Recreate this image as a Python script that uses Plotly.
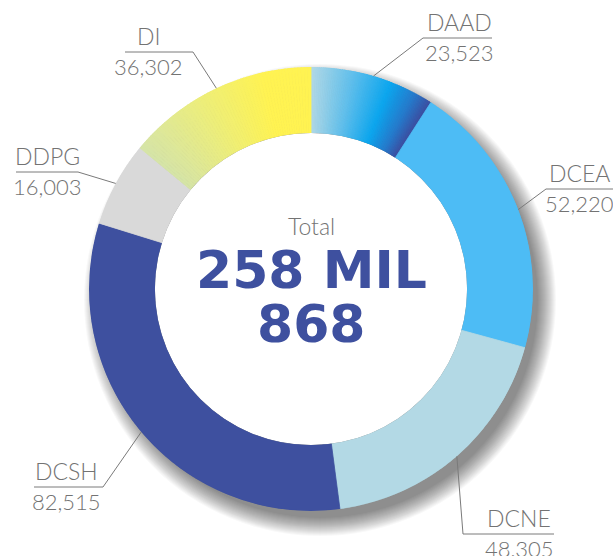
import numpy as np
import plotly.graph_objects as go

# ---------------- data ----------------
categories = ["DAAD", "DCEA", "DCNE", "DCSH", "DDPG", "DI"]
values = [23523, 52220, 48305, 82515, 16003, 36302]
value_labels = ["23,523", "52,220", "48,305", "82,515", "16,003", "36,302"]
total_label_top = "258 MIL"
total_label_bottom = "868"
total_caption = "Total"

# ---------------- styles ----------------
solid_colors = {"DCEA": "#4DBCF5", "DCNE": "#B3D9E5", "DCSH": "#3E509F", "DDPG": "#D9D9D9"}
gradient_stops = {
    "DAAD": [(0.0, "#B2D9E6"), (0.35, "#5DBEEC"), (0.65, "#0BA6EF"), (0.86, "#2579CB"), (1.0, "#3B4DA0")],
    "DI": [(0.0, "#D5E4A8"), (0.4, "#EDEE7A"), (0.75, "#FFF352"), (1.0, "#FFF352")],
}

W, H = 613, 556
CX, CY, R = 311, 289, 222       # donut centre / outer radius in pixels
HOLE = 0.703
TEXT_GREY = "#737373"
LINE_GREY = "#7a7a7a"
BLUE = "#3E509F"

label_layout = {
    "DAAD": dict(elbow=(423, 38), end=(492, 38), tx=459),
    "DCEA": dict(elbow=(546, 189), end=(613, 189), tx=579),
    "DCNE": dict(elbow=(463, 534), end=(554, 534), tx=519),
    "DCSH": dict(elbow=(103, 487), end=(34, 487), tx=66),
    "DDPG": dict(elbow=(78, 172), end=(16, 172), tx=47),
    "DI": dict(elbow=(193, 52), end=(125, 52), tx=148),
}


def px(x):
    return x / W


def py(y):
    return 1 - y / H


def hex2rgb(h):
    h = h.lstrip("#")
    return np.array([int(h[i:i + 2], 16) for i in (0, 2, 4)], dtype=float)


def interp(stops, t):
    for (t0, c0), (t1, c1) in zip(stops[:-1], stops[1:]):
        if t0 <= t <= t1:
            f = 0 if t1 == t0 else (t - t0) / (t1 - t0)
            c = hex2rgb(c0) * (1 - f) + hex2rgb(c1) * f
            return "rgb(%d,%d,%d)" % tuple(np.round(c))
    return stops[-1][1]


total = sum(values)
spans = [v / total * 360 for v in values]
starts = np.concatenate([[0], np.cumsum(spans)[:-1]])

thetas, widths, colors = [], [], []
for name, st, sp in zip(categories, starts, spans):
    if name in gradient_stops:
        n = 60
        for k in range(n):
            t = (k + 0.5) / n
            thetas.append(st + sp * t)
            widths.append(sp / n)
            colors.append(interp(gradient_stops[name], t))
    else:
        thetas.append(st + sp / 2)
        widths.append(sp)
        colors.append(solid_colors[name])

fig = go.Figure()
fig.add_trace(go.Barpolar(
    r=[1] * len(thetas), theta=thetas, width=widths,
    marker=dict(color=colors, line=dict(color=colors, width=0.8)),
    hoverinfo="skip", showlegend=False,
))

dom_x = [px(CX - R), px(CX + R)]
dom_y = [py(CY + R), py(CY - R)]

shapes = []
# soft drop shadow
for k, rr in enumerate(range(R - 4, R + 15)):
    sx, sy = CX + 9, CY + 11
    shapes.append(dict(type="circle", xref="paper", yref="paper", layer="below",
                       x0=px(sx - rr), x1=px(sx + rr), y0=py(sy + rr), y1=py(sy - rr),
                       fillcolor="rgba(0,0,0,0.028)", line=dict(width=0)))
# white hole
rh = R * HOLE
shapes.append(dict(type="circle", xref="paper", yref="paper", layer="below",
                   x0=px(CX - rh), x1=px(CX + rh), y0=py(CY + rh), y1=py(CY - rh),
                   fillcolor="white", line=dict(width=0)))

annotations = []
label_font = dict(family="Lato, 'Open Sans', sans-serif", color=TEXT_GREY, weight=300)
for name, vlab, st, sp in zip(categories, value_labels, starts, spans):
    mid = np.deg2rad(st + sp / 2)
    ax, ay = CX + R * np.sin(mid), CY - R * np.cos(mid)
    lay = label_layout[name]
    (ex, ey), (fx, fy) = lay["elbow"], lay["end"]
    shapes.append(dict(type="path", xref="paper", yref="paper", layer="above",
                       path=f"M {px(ax)},{py(ay)} L {px(ex)},{py(ey)} L {px(fx)},{py(fy)}",
                       line=dict(color=LINE_GREY, width=1)))
    annotations.append(dict(x=px(lay["tx"]), y=py(ey), xref="paper", yref="paper",
                            text=name, showarrow=False, xanchor="center", yanchor="bottom",
                            font=dict(size=23, **label_font)))
    annotations.append(dict(x=px(lay["tx"]), y=py(ey - 1), xref="paper", yref="paper",
                            text=vlab, showarrow=False, xanchor="center", yanchor="top",
                            font=dict(size=22, **label_font)))

annotations.append(dict(x=px(CX), y=py(242), xref="paper", yref="paper", text=total_caption,
                        showarrow=False, xanchor="center", yanchor="bottom",
                        font=dict(size=23, family="Lato, sans-serif", color=TEXT_GREY, weight=300)))
annotations.append(dict(x=px(CX), y=py(302), xref="paper", yref="paper", text=total_label_top,
                        showarrow=False, xanchor="center", yanchor="bottom",
                        font=dict(size=52, family="DejaVu Sans", color=BLUE, weight="bold")))
annotations.append(dict(x=px(CX), y=py(356), xref="paper", yref="paper", text=total_label_bottom,
                        showarrow=False, xanchor="center", yanchor="bottom",
                        font=dict(size=52, family="DejaVu Sans", color=BLUE, weight="bold")))

fig.update_layout(
    width=W, height=H,
    margin=dict(l=0, r=0, t=0, b=0),
    paper_bgcolor="white",
    showlegend=False,
    polar=dict(
        domain=dict(x=dom_x, y=dom_y),
        hole=HOLE,
        bgcolor="rgba(0,0,0,0)",
        radialaxis=dict(range=[0, 1], visible=False, showgrid=False),
        angularaxis=dict(direction="clockwise", rotation=90, showgrid=False,
                         showticklabels=False, ticks="", showline=False),
    ),
    shapes=shapes,
    annotations=annotations,
)

fig.write_html("out.html", config={"displayModeBar": False},
               post_script="document.body.style.margin='0';document.body.style.overflow='hidden';")
